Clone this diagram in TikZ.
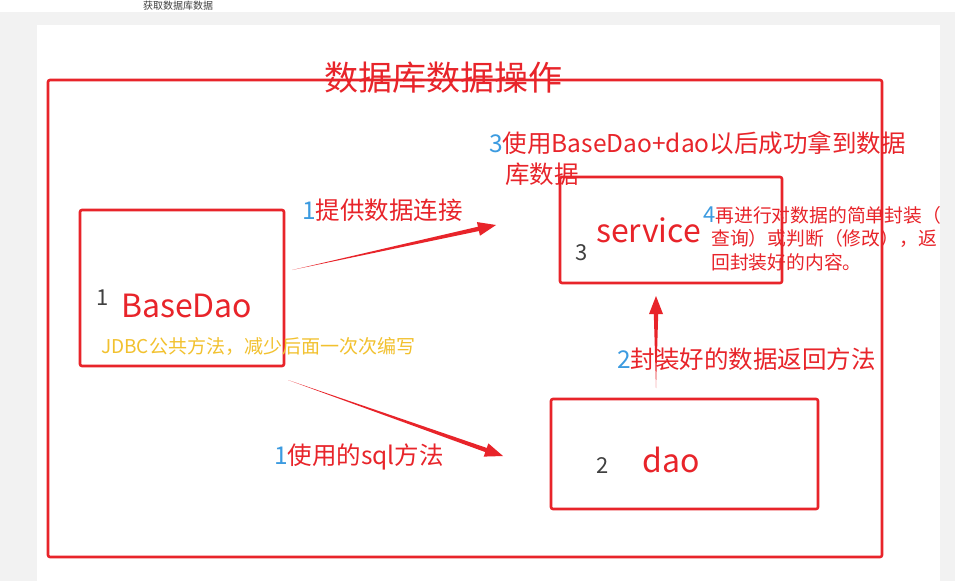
\documentclass[tikz,border=0pt]{standalone}
\usepackage{fontspec}
\setmainfont{Noto Sans CJK SC}
\usetikzlibrary{calc}
\definecolor{cred}{HTML}{E8242A}
\definecolor{cblue}{HTML}{3C9BE0}
\definecolor{cgray}{HTML}{404040}
\definecolor{cyel}{HTML}{F2C12E}
\definecolor{cbg}{HTML}{F2F2F2}
\tikzset{
  box/.style={draw=cred,line width=2.6pt,rounded corners=2pt,inner sep=0pt},
  lbl/.style={anchor=west,inner sep=0pt,text=cred,font=\fontsize{24.5}{27}\selectfont},
  big/.style={anchor=west,inner sep=0pt,text=cred,font=\fontsize{32}{36}\selectfont},
  num/.style={anchor=west,inner sep=0pt,text=cgray,font=\fontsize{22}{24}\selectfont},
}
\newcommand{\fatarrow}[2]{%
  \fill[cred] (#1) -- ($($(#2)!18pt!(#1)$)!2.2pt!90:(#1)$) -- ($($(#2)!18pt!(#1)$)!7pt!90:(#1)$) -- (#2)
   -- ($($(#2)!18pt!(#1)$)!7pt!-90:(#1)$) -- ($($(#2)!18pt!(#1)$)!2.2pt!-90:(#1)$) -- cycle;}
\begin{document}
\begin{tikzpicture}[x=1pt,y=-1pt]
\useasboundingbox (0,0) rectangle (965,581);
\clip (0,0) rectangle (965,581);
\fill[white] (0,0) rectangle (965,581);
\fill[cbg] (0,12) rectangle (955,581);
\fill[white] (37,25) rectangle (940,581);
\node[anchor=west,inner sep=0pt,text=cgray,font=\fontsize{10}{11}\selectfont] (top) at (143,6) {获取数据库数据};
% outer
\node[box,minimum width=834pt,minimum height=477pt] (outer) at (465,318.5) {};
\node[inner sep=0pt,text=cred,font=\fontsize{34}{38}\selectfont] (title) at (443,78) {数据库数据操作};
% boxes
\node[box,minimum width=204pt,minimum height=156pt] (basedao) at (182,288) {};
\node[box,minimum width=222pt,minimum height=106pt] (service) at (671,230) {};
\node[box,minimum width=267pt,minimum height=110pt] (dao) at (684.5,454) {};
% box texts
\node[num] (n1) at (96,298) {1};
\node[big] (bd) at (121,306) {BaseDao};
\node[anchor=west,inner sep=0pt,text=cyel,font=\fontsize{19}{20}\selectfont] (jdbc) at (101,346) {JDBC公共方法，减少后面一次次编写};
\node[num] (n3) at (575,253) {3};
\node[big] (sv) at (596,230) {service};
\node[num] (n2) at (596,466) {2};
\node[big] (da) at (642,460) {dao};
% labels
\node[lbl] (l3) at (489,143) {\textcolor{cblue}{3}使用BaseDao+dao以后成功拿到数据};
\node[lbl] (l3b) at (505,174) {库数据};
\node[anchor=north west,inner sep=0pt,text=cred,font=\fontsize{18.8}{23.5}\selectfont,align=left] (l4) at (703,206)
  {\textcolor{cblue}{\fontsize{22}{23.5}\selectfont 4}再进行对数据的简单封装（\\\hspace*{8pt}查询）或判断（修改），返\\\hspace*{8pt}回封装好的内容。};
\node[lbl] (l1a) at (302,210) {\textcolor{cblue}{1}提供数据连接};
\node[lbl] (l1b) at (274,457) {\textcolor{cblue}{1}使用的sql方法};
\node[lbl] (l2) at (617,359) {\textcolor{cblue}{2}封装好的数据返回方法};
% arrows
\coordinate (a1s) at (292,270);
\coordinate (a1e) at (496,225);
\coordinate (a2s) at (288,380);
\coordinate (a2e) at (503,456);
\coordinate (a3s) at (656,388);
\coordinate (a3e) at (656,296);
\fatarrow{a1s}{a1e}
\fatarrow{a2s}{a2e}
\fatarrow{a3s}{a3e}
\end{tikzpicture}
\end{document}
